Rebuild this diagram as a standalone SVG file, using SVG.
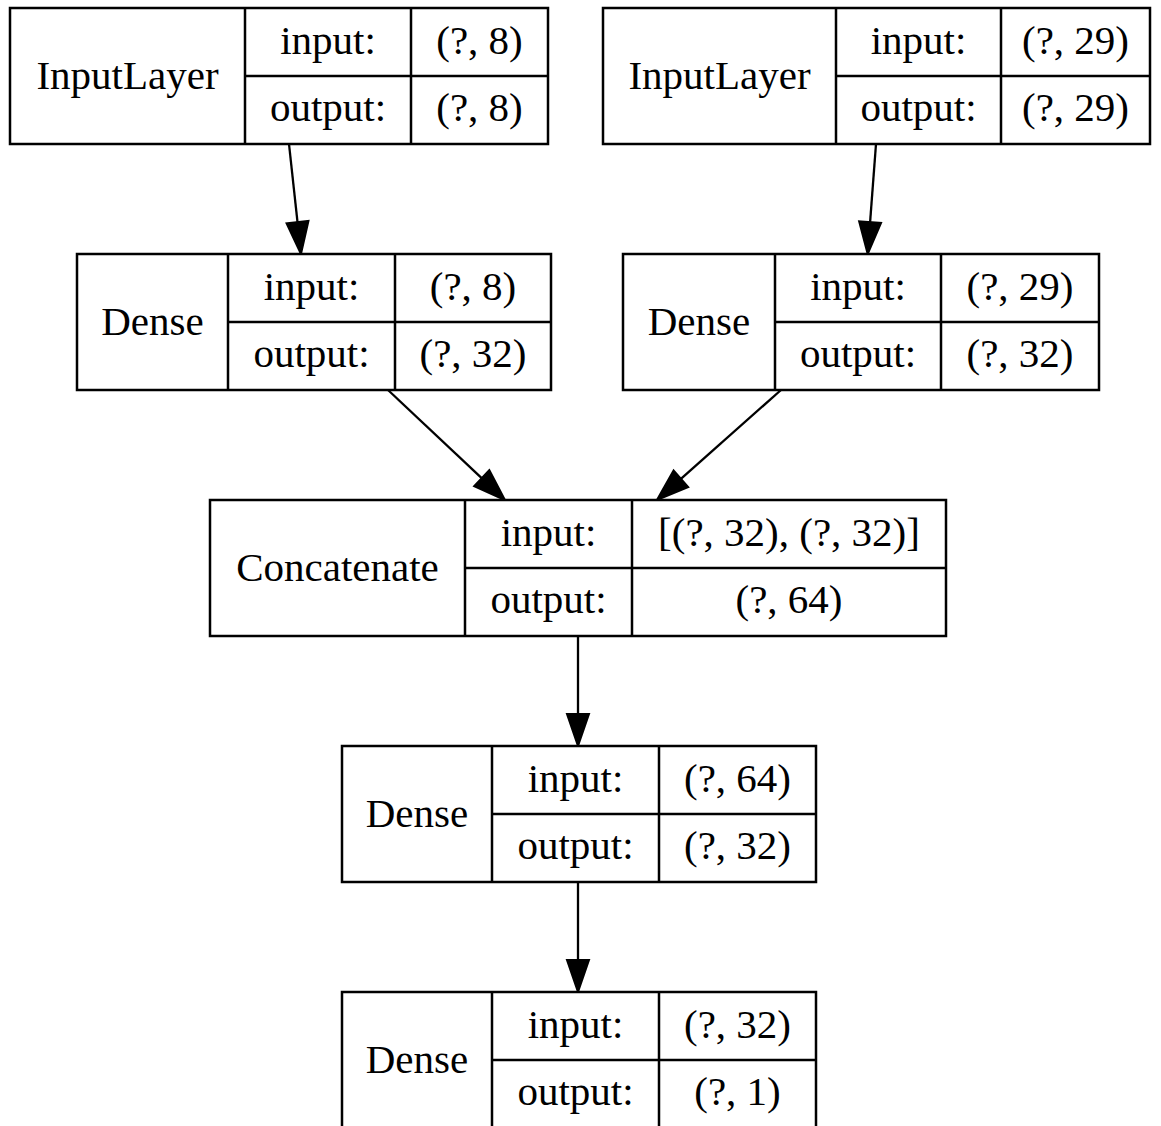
<svg xmlns="http://www.w3.org/2000/svg" width="1161" height="1126" viewBox="0 0 1161 1126">
  <style>
    .box { fill: #ffffff; stroke: #000000; stroke-width: 2.5; }
    .div { stroke: #000000; stroke-width: 2.5; fill: none; }
    text { font-family: "Liberation Serif", "Times New Roman", serif; font-size: 41px; fill: #000000; text-anchor: middle; }
    .edge { stroke: #000000; stroke-width: 2.3; fill: none; marker-end: url(#arrow); }
  </style>
  <defs>
    <marker id="arrow" markerUnits="userSpaceOnUse" markerWidth="34" markerHeight="26" refX="0" refY="0" viewBox="0 -13 34 26" orient="auto" overflow="visible">
      <path d="M0,-11 L32,0 L0,11 Z" fill="#000000" stroke="#000000" stroke-width="2"/>
    </marker>
  </defs>
  <rect width="1161" height="1126" fill="#ffffff"/>

  <!-- connectors -->
  <g id="edges">
    <path class="edge" d="M289,144 L297.5,222.2"/>
    <path class="edge" d="M876,144 L870.1,222.1"/>
    <path class="edge" d="M388,390 L481.7,478.1"/>
    <path class="edge" d="M781,390 L680.9,478.8"/>
    <path class="edge" d="M578,636 L578,714"/>
    <path class="edge" d="M578,882 L578,960"/>
  </g>

  <!-- input_1 -->
  <g id="input_1">
    <rect class="box" x="10" y="8" width="538" height="136"/>
    <path class="div" d="M245,8 V144 M411,8 V144 M245,76 H548"/>
    <text x="127.5" y="88.5">InputLayer</text>
    <text x="328" y="53.5">input:</text>
    <text x="328" y="120.5">output:</text>
    <text x="479.5" y="53.5">(?, 8)</text>
    <text x="479.5" y="120.5">(?, 8)</text>
  </g>

  <!-- input_2 -->
  <g id="input_2">
    <rect class="box" x="603" y="8" width="547" height="136"/>
    <path class="div" d="M836,8 V144 M1001,8 V144 M836,76 H1150"/>
    <text x="719.5" y="88.5">InputLayer</text>
    <text x="918.5" y="53.5">input:</text>
    <text x="918.5" y="120.5">output:</text>
    <text x="1075.5" y="53.5">(?, 29)</text>
    <text x="1075.5" y="120.5">(?, 29)</text>
  </g>

  <!-- dense_1 -->
  <g id="dense_1">
    <rect class="box" x="77" y="254" width="474" height="136"/>
    <path class="div" d="M228,254 V390 M395,254 V390 M228,322 H551"/>
    <text x="152.5" y="334.5">Dense</text>
    <text x="311.5" y="299.5">input:</text>
    <text x="311.5" y="366.5">output:</text>
    <text x="473" y="299.5">(?, 8)</text>
    <text x="473" y="366.5">(?, 32)</text>
  </g>

  <!-- dense_2 -->
  <g id="dense_2">
    <rect class="box" x="623" y="254" width="476" height="136"/>
    <path class="div" d="M775,254 V390 M941,254 V390 M775,322 H1099"/>
    <text x="699" y="334.5">Dense</text>
    <text x="858" y="299.5">input:</text>
    <text x="858" y="366.5">output:</text>
    <text x="1020" y="299.5">(?, 29)</text>
    <text x="1020" y="366.5">(?, 32)</text>
  </g>

  <!-- concatenate_1 -->
  <g id="concatenate_1">
    <rect class="box" x="210" y="500" width="736" height="136"/>
    <path class="div" d="M465,500 V636 M632,500 V636 M465,568 H946"/>
    <text x="337.5" y="580.5">Concatenate</text>
    <text x="548.5" y="545.5">input:</text>
    <text x="548.5" y="612.5">output:</text>
    <text x="789" y="545.5">[(?, 32), (?, 32)]</text>
    <text x="789" y="612.5">(?, 64)</text>
  </g>

  <!-- dense_3 -->
  <g id="dense_3">
    <rect class="box" x="342" y="746" width="474" height="136"/>
    <path class="div" d="M492,746 V882 M659,746 V882 M492,814 H816"/>
    <text x="417" y="826.5">Dense</text>
    <text x="575.5" y="791.5">input:</text>
    <text x="575.5" y="858.5">output:</text>
    <text x="737.5" y="791.5">(?, 64)</text>
    <text x="737.5" y="858.5">(?, 32)</text>
  </g>

  <!-- dense_4 -->
  <g id="dense_4">
    <rect class="box" x="342" y="992" width="474" height="136"/>
    <path class="div" d="M492,992 V1128 M659,992 V1128 M492,1060 H816"/>
    <text x="417" y="1072.5">Dense</text>
    <text x="575.5" y="1037.5">input:</text>
    <text x="575.5" y="1104.5">output:</text>
    <text x="737.5" y="1037.5">(?, 32)</text>
    <text x="737.5" y="1104.5">(?, 1)</text>
  </g>
</svg>
